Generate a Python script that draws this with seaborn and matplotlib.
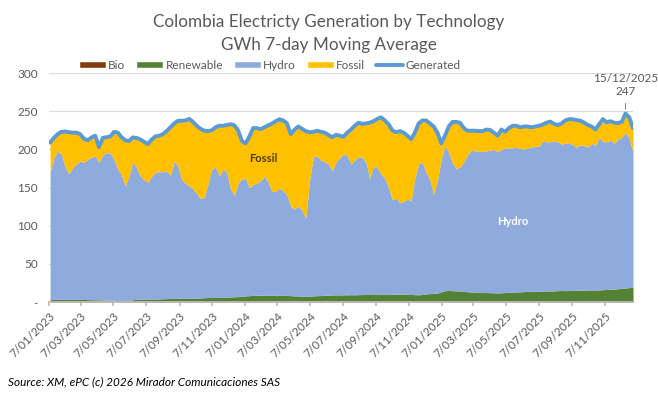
import pandas as pd
import seaborn as sns
import matplotlib.pyplot as plt
import matplotlib.dates as mdates
from matplotlib.patches import Patch
from matplotlib.lines import Line2D

# weekly samples of the 7-day moving average (GWh)
dates = pd.date_range("2023-01-09", periods=156, freq="7D")

bio = ([1.5] * 41 + [2.0] * 15 + [1.5] * 48 + [2.0] * 9 + [1.6] * 18
       + [2.0] * 10 + [1.6] * 9 + [2.0] * 6)

renewable = [
    2.0, 2.0, 2.1, 2.0, 1.9, 2.0, 2.1, 2.0, 1.9, 2.0, 1.8, 1.7, 1.5, 1.5, 1.3, 1.1,
    0.9, 0.7, 0.3, 0.2, 0.3, 0.7, 1.7, 2.1, 2.3, 2.5, 2.5, 2.7, 2.6, 2.8, 2.9, 3.1,
    3.3, 3.2, 3.4, 3.5, 3.5, 3.7, 3.6, 3.8, 4.0, 3.8, 4.0, 4.0, 4.2, 4.3, 4.2, 4.5,
    4.8, 5.0, 5.2, 5.8, 6.2, 6.5, 6.8, 7.0, 7.5, 7.7, 7.5, 7.8, 7.6, 7.5, 7.3, 7.2,
    7.0, 6.7, 6.5, 6.3, 6.4, 6.5, 6.7, 6.9, 7.1, 7.5, 7.7, 7.8, 8.0, 7.9, 8.1, 8.0,
    8.2, 8.1, 8.3, 8.4, 8.5, 8.6, 8.5, 8.7, 8.8, 8.6, 8.7, 8.9, 8.8, 9.0, 8.9, 8.7,
    8.5, 8.3, 8.1, 8.5, 9.3, 9.7, 10.0, 10.3, 11.5, 13.0, 13.2, 13.0, 12.8, 12.6, 12.0, 11.6,
    11.3, 11.4, 11.2, 11.0, 10.9, 10.8, 10.6, 10.4, 10.7, 10.9, 11.2, 11.4, 11.7, 11.9, 12.2, 12.4,
    12.6, 12.4, 12.7, 12.5, 12.7, 12.6, 12.8, 13.0, 13.2, 13.0, 13.3, 13.5, 13.4, 14.0, 13.9, 14.2,
    14.4, 14.2, 14.4, 14.7, 14.9, 15.2, 15.0, 15.5, 16.0, 16.5, 17.0, 17.5,
]

hydro = [
    166.5, 185.5, 194.4, 190.5, 173.6, 164.5, 172.4, 177.5, 181.6, 179.5, 183.7, 186.8, 188.0, 180.0, 190.2, 193.4,
    192.6, 184.8, 172.2, 165.3, 150.2, 162.8, 180.8, 172.4, 161.2, 156.0, 153.0, 160.8, 165.9, 166.7, 166.1, 167.4,
    161.2, 180.3, 173.1, 155.0, 151.0, 146.8, 142.9, 136.7, 130.5, 131.2, 149.0, 168.0, 170.8, 158.7, 167.8, 163.5,
    141.2, 133.0, 148.8, 153.2, 153.8, 141.5, 145.2, 147.0, 150.0, 155.8, 148.0, 135.7, 135.9, 140.0, 137.2, 131.3,
    116.5, 113.8, 118.0, 112.2, 102.1, 152.0, 182.8, 182.6, 177.4, 175.0, 171.8, 162.7, 173.5, 179.6, 184.4, 182.5,
    171.3, 176.4, 180.2, 180.1, 173.0, 151.9, 168.0, 165.8, 157.7, 151.9, 139.8, 123.6, 125.7, 119.5, 121.6, 124.8,
    123.0, 153.2, 171.4, 173.0, 159.2, 148.8, 129.5, 148.2, 173.5, 190.0, 180.8, 167.0, 160.2, 162.4, 170.0, 179.4,
    185.7, 185.0, 185.2, 184.4, 185.5, 186.6, 187.8, 185.0, 187.7, 189.5, 189.2, 189.0, 189.7, 187.5, 186.7, 188.0,
    188.3, 190.0, 189.7, 196.5, 195.3, 195.4, 196.2, 195.0, 191.8, 193.0, 193.7, 190.5, 187.6, 190.4, 189.5, 187.2,
    192.0, 189.2, 200.0, 193.7, 193.5, 195.2, 191.0, 195.5, 198.0, 203.5, 196.0, 176.5,
]

fossil = [
    39.0, 26.0, 22.0, 29.0, 46.5, 54.5, 46.0, 41.0, 35.0, 31.0, 25.0, 25.7, 27.0, 20.0, 22.0, 20.0,
    22.0, 36.0, 48.0, 49.0, 60.0, 46.0, 31.7, 39.0, 48.0, 50.0, 50.0, 48.0, 47.0, 47.0, 49.5, 52.0,
    63.0, 49.0, 59.5, 77.5, 82.0, 88.0, 88.0, 89.0, 91.0, 87.5, 69.0, 51.0, 52.0, 66.0, 57.0, 62.0,
    85.0, 91.5, 69.0, 50.0, 46.0, 67.0, 74.0, 72.0, 67.6, 64.0, 74.5, 89.0, 92.0, 90.5, 92.0, 94.0,
    95.0, 104.0, 104.0, 107.0, 114.0, 62.5, 32.0, 33.5, 37.0, 38.0, 38.0, 44.0, 36.0, 29.0, 22.5, 30.0,
    45.0, 45.0, 45.0, 43.5, 51.0, 73.0, 59.0, 64.0, 74.0, 76.0, 83.0, 91.0, 86.5, 94.0, 90.0, 83.0,
    80.5, 59.0, 53.0, 55.0, 68.0, 74.0, 89.0, 62.0, 21.0, 13.0, 34.0, 54.0, 61.0, 58.0, 44.0, 31.5,
    25.5, 26.5, 26.0, 27.0, 28.0, 26.5, 22.0, 21.0, 26.0, 21.0, 26.0, 29.0, 28.0, 28.0, 29.5, 28.0,
    26.5, 26.0, 27.0, 21.5, 25.0, 26.5, 22.5, 22.0, 27.0, 30.0, 30.7, 33.5, 35.4, 31.7, 30.0, 29.0,
    22.0, 21.0, 17.0, 29.7, 25.5, 25.0, 27.0, 21.5, 20.0, 25.0, 27.0, 32.0,
]

series = ["Bio", "Renewable", "Hydro", "Fossil"]
colors = ["#843C0C", "#548235", "#8FAADC", "#FFC000"]
line_color = "#5B9BD5"
grey = "#595959"

df = pd.DataFrame({"Date": dates, "Bio": bio, "Renewable": renewable,
                   "Hydro": hydro, "Fossil": fossil})
df["Generated"] = df[series].sum(axis=1)

sns.set_theme(style="white")
plt.rcParams["font.family"] = ["Lato", "DejaVu Sans"]

fig = plt.figure(figsize=(6.58, 3.97), dpi=100)
ax = fig.add_axes([0.0745, 0.239, 0.8875, 0.577])

ax.stackplot(df["Date"], [df[s] for s in series], colors=colors, linewidth=0, zorder=2)
sns.lineplot(data=df, x="Date", y="Generated", color=line_color, linewidth=2.8,
             ax=ax, zorder=3, legend=False)

ax.set_xlim(pd.Timestamp("2023-01-07"), df["Date"].iloc[-1])
ax.set_ylim(0, 300)
ax.set_yticks(range(0, 301, 50))
ax.set_yticklabels(["-"] + [str(v) for v in range(50, 301, 50)])
ax.yaxis.grid(True, color="#D9D9D9", linewidth=0.8, zorder=0)
ax.set_axisbelow(True)

ax.xaxis.set_major_locator(mdates.MonthLocator(bymonth=[1, 3, 5, 7, 9, 11], bymonthday=7))
ax.xaxis.set_major_formatter(plt.FuncFormatter(
    lambda v, _: (lambda d: f"{d.day}/{d.month:02d}/{d.year}")(mdates.num2date(v))))
ax.tick_params(axis="x", which="major", length=3, color="#BFBFBF", direction="out",
               bottom=True, labelsize=8.5, labelcolor=grey, rotation=45, pad=3)
for lab in ax.get_xticklabels():
    lab.set_ha("right")
    lab.set_rotation_mode("anchor")
ax.tick_params(axis="y", length=0, labelsize=8.5, labelcolor=grey, pad=8)

for side in ["left", "right", "top"]:
    ax.spines[side].set_visible(False)
ax.spines["bottom"].set_color("#BFBFBF")
ax.set_xlabel("")
ax.set_ylabel("")

# in-chart labels
ax.text(pd.Timestamp("2024-02-10"), 188, "Fossil", color="#4D3B00", fontsize=8,
        fontweight="bold", ha="center", va="center", zorder=4)
ax.text(pd.Timestamp("2025-05-20"), 105, "Hydro", color="white", fontsize=8,
        fontweight="bold", ha="center", va="center", zorder=4)

peak = df.loc[df["Generated"].idxmax()]
ax.annotate(f"{peak['Date'].day}/{peak['Date'].month}/{peak['Date'].year}\n{peak['Generated']:.0f}",
            xy=(peak["Date"], peak["Generated"] + 2), xytext=(peak["Date"], 268),
            ha="center", va="bottom", fontsize=8.5, color=grey, linespacing=1.3,
            arrowprops=dict(arrowstyle="-", color="#8C8C8C", lw=0.8), zorder=5)

fig.text(0.5, 0.945, "Colombia Electricty Generation by Technology", ha="center",
         va="center", fontsize=12.3, color=grey)
fig.text(0.5, 0.887, "GWh 7-day Moving Average", ha="center", va="center",
         fontsize=12.3, color=grey)

handles = [Patch(facecolor=c, label=s) for s, c in zip(series, colors)]
handles.append(Line2D([0], [0], color=line_color, linewidth=2.8, label="Generated"))
fig.legend(handles=handles, loc="center", bbox_to_anchor=(0.41, 0.836), ncol=5,
           frameon=False, fontsize=8.5, handlelength=2.3, handleheight=0.55,
           columnspacing=0.9, handletextpad=0.2, labelcolor=grey)

fig.text(0.012, 0.038, "Source: XM, ePC (c) 2026 Mirador Comunicaciones SAS",
         fontsize=8.5, style="italic", color="black", ha="left", va="center")

fig.savefig("out.png", dpi=100)
